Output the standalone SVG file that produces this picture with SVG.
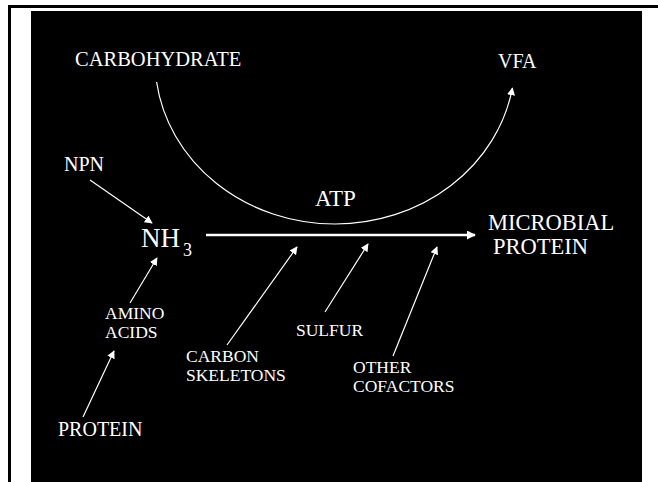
<svg xmlns="http://www.w3.org/2000/svg" width="658" height="482" viewBox="0 0 658 482">
<style>
text{font-family:"Liberation Serif","Times New Roman",serif;fill:#fff}
.c{stroke:#fff;fill:none;stroke-width:1.2}
</style>
<defs>
<marker id="ah" viewBox="0 0 10 10" refX="9" refY="5" markerWidth="8" markerHeight="8" markerUnits="userSpaceOnUse" orient="auto">
<path d="M0,0 L10,5 L0,10 z" fill="#fff"/>
</marker>
<marker id="ah2" viewBox="0 0 10 10" refX="9" refY="5" markerWidth="9" markerHeight="9" markerUnits="userSpaceOnUse" orient="auto">
<path d="M0,0 L10,5 L0,10 z" fill="#fff"/>
</marker>
</defs>
<rect x="0" y="0" width="658" height="482" fill="#fff"/>
<rect x="8" y="5" width="650" height="3" fill="#000"/>
<rect x="8" y="5" width="3" height="477" fill="#000"/>
<rect x="31" y="11" width="611" height="471" fill="#000"/>
<g id="connectors">
<path class="c" d="M156.6,82 A180,164 0 0 0 335,224 A180,164 0 0 0 512.4,88" marker-end="url(#ah)"/>
<line class="c" x1="90" y1="180" x2="152" y2="223" marker-end="url(#ah)"/>
<line x1="206" y1="235" x2="475" y2="235" stroke="#fff" stroke-width="2.5" marker-end="url(#ah2)"/>
<line class="c" x1="130" y1="303" x2="157" y2="258" marker-end="url(#ah)"/>
<line class="c" x1="83" y1="417" x2="114" y2="351" marker-end="url(#ah)"/>
<line class="c" x1="227" y1="345" x2="297" y2="247" marker-end="url(#ah)"/>
<line class="c" x1="325" y1="312" x2="368" y2="244" marker-end="url(#ah)"/>
<line class="c" x1="393" y1="356" x2="437" y2="247" marker-end="url(#ah)"/>
</g>
<g id="carbohydrate"><text x="75" y="66" font-size="20.5">CARBOHYDRATE</text></g>
<g id="vfa"><text x="498" y="68" font-size="20">VFA</text></g>
<g id="npn"><text x="64" y="171" font-size="20">NPN</text></g>
<g id="atp"><text x="315" y="206" font-size="23">ATP</text></g>
<g id="nh3"><text x="141" y="247" font-size="27">NH<tspan font-size="18" dx="3" dy="9">3</tspan></text></g>
<g id="microbial-protein"><text font-size="22.5"><tspan x="488" y="230">MICROBIAL</tspan><tspan x="493" y="254">PROTEIN</tspan></text></g>
<g id="amino-acids"><text font-size="17.5"><tspan x="105" y="319">AMINO</tspan><tspan x="105" y="338">ACIDS</tspan></text></g>
<g id="carbon-skeletons"><text font-size="17.5"><tspan x="186" y="362">CARBON</tspan><tspan x="186" y="381">SKELETONS</tspan></text></g>
<g id="sulfur"><text x="296" y="336" font-size="17.5">SULFUR</text></g>
<g id="other-cofactors"><text font-size="17.5"><tspan x="353" y="373">OTHER</tspan><tspan x="353" y="392">COFACTORS</tspan></text></g>
<g id="protein"><text x="58" y="436" font-size="20">PROTEIN</text></g>
</svg>
